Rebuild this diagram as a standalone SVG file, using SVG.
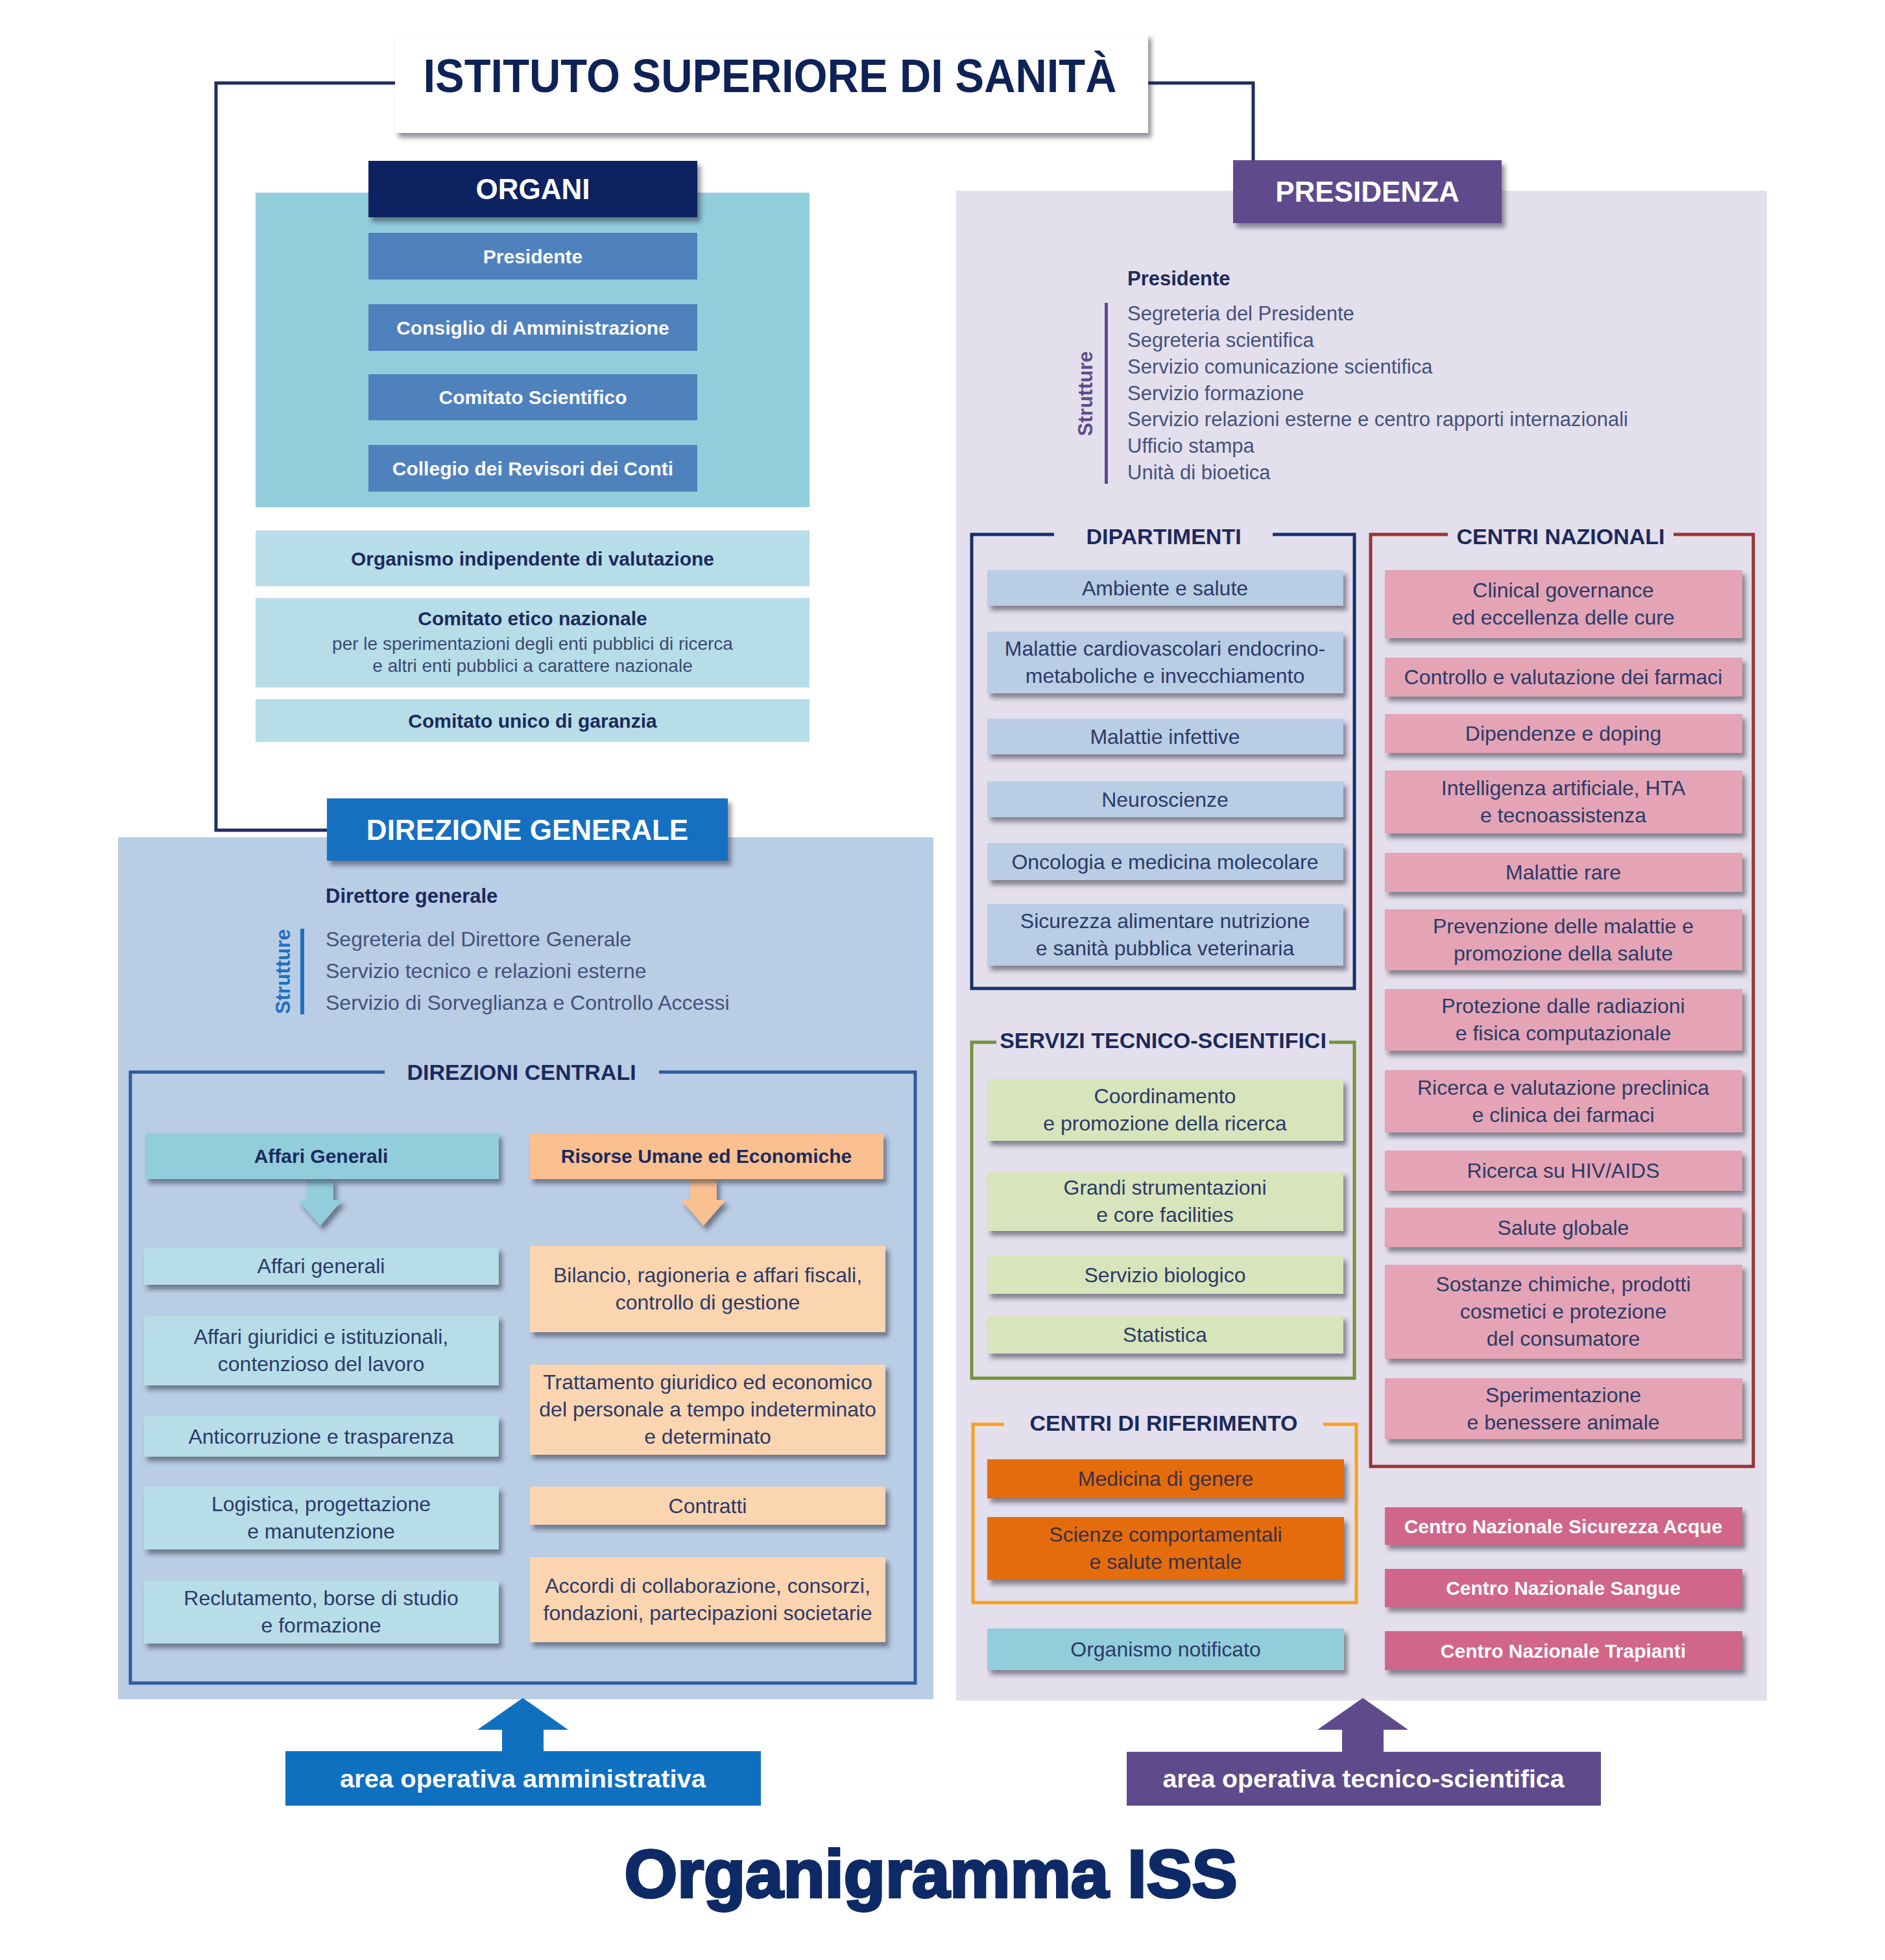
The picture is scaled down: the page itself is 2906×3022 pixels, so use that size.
<svg xmlns="http://www.w3.org/2000/svg" width="2906" height="3022" viewBox="0 0 2906 3022">
<defs>
<filter id="sh" x="-10%" y="-20%" width="130%" height="170%">
<feDropShadow dx="5" dy="7" stdDeviation="3.5" flood-color="#1d2233" flood-opacity="0.5"/>
</filter>
</defs>
<style>
text{font-family:"Liberation Sans",Arial,sans-serif}
.t{font-size:32px;fill:#2B3A67;text-anchor:middle}
.ts{font-size:28px;fill:#3B4A72;text-anchor:middle}
.tb{font-size:30px;font-weight:bold;fill:#1B2A5C;text-anchor:middle}
.ob{font-size:30px;font-weight:bold;fill:#fff;text-anchor:middle}
.hdr{font-size:44px;font-weight:bold;fill:#fff;text-anchor:middle}
.sec{font-size:34px;font-weight:bold;fill:#1B2A5C;text-anchor:middle}
.lst{font-size:31px;fill:#44527A}
.lsd{font-size:32px;fill:#44527A}
.lsb{font-size:31px;font-weight:bold;fill:#1B2A5C}
.fr{fill:none;stroke-width:5}
.dip{fill:#B9CDE5}
.cn{fill:#E4A4B5}
.srv{fill:#D8E4BC}
.rif{fill:#E46C0A}
.cnz{fill:#D0668A}
.ag{fill:#B7DDE8}
.ru{fill:#FBD4B0}
.oi{fill:#4F81BD}
</style>
<rect x="0" y="0" width="2906" height="3022" fill="#fff"/>

<!-- panels -->
<g id="panels">
<rect x="394" y="297" width="854" height="485" fill="#92CDDC"/>
<rect x="1474" y="294" width="1250" height="2328" fill="#E4DFEC"/>
<rect x="182" y="1291" width="1257" height="1329" fill="#B9CDE5"/>
</g>

<!-- connectors -->
<g id="connectors">
<path d="M 610 128 H 333 V 1280 H 506" fill="none" stroke="#1F2E5F" stroke-width="5"/>
<path d="M 1768 128 H 1932 V 249" fill="none" stroke="#1F2E5F" stroke-width="5"/>
<polygon points="473,1818 514,1818 514,1850 528,1850 493.5,1890 459,1850 473,1850" fill="#92CDDC" filter="url(#sh)"/>
<polygon points="1064,1818 1105,1818 1105,1850 1119,1850 1084.5,1890 1050,1850 1064,1850" fill="#FAC090" filter="url(#sh)"/>
<polygon points="774,2701 774,2667 736,2667 806,2618 876,2667 838,2667 838,2701" fill="#0F70C0"/>
<polygon points="2069,2701 2069,2667 2031,2667 2101,2618 2171,2667 2133,2667 2133,2701" fill="#5F4B8B"/>
</g>

<!-- title -->
<g id="title">
<rect x="609" y="52" width="1161" height="153" fill="#fff" filter="url(#sh)"/>
<text x="1187" y="142" font-size="72" font-weight="bold" fill="#0E2258" text-anchor="middle" textLength="1069" lengthAdjust="spacingAndGlyphs">ISTITUTO SUPERIORE DI SANITÀ</text>
</g>

<!-- ORGANI -->
<g id="organi">
<rect x="568" y="248" width="507" height="87" fill="#0B2460" filter="url(#sh)"/>
<text class="hdr" x="821.5" y="307">ORGANI</text>
</g>
<g id="organi-presidente"><rect class="oi" x="568" y="359" width="507" height="72"/><text class="ob" x="821.5" y="406">Presidente</text></g>
<g id="organi-cda"><rect class="oi" x="568" y="469" width="507" height="72"/><text class="ob" x="821.5" y="516">Consiglio di Amministrazione</text></g>
<g id="organi-cs"><rect class="oi" x="568" y="577" width="507" height="71"/><text class="ob" x="821.5" y="623">Comitato Scientifico</text></g>
<g id="organi-crc"><rect class="oi" x="568" y="686" width="507" height="72"/><text class="ob" x="821.5" y="733">Collegio dei Revisori dei Conti</text></g>
<g id="oiv"><rect class="ag" x="394" y="818" width="854" height="86"/><text class="tb" x="821" y="872">Organismo indipendente di valutazione</text></g>
<g id="cen"><rect class="ag" x="394" y="922" width="854" height="138"/>
<text class="tb" x="821" y="964">Comitato etico nazionale</text>
<text class="ts" x="821" y="1002">per le sperimentazioni degli enti pubblici di ricerca</text>
<text class="ts" x="821" y="1036">e altri enti pubblici a carattere nazionale</text></g>
<g id="cug"><rect class="ag" x="394" y="1078" width="854" height="66"/><text class="tb" x="821" y="1122">Comitato unico di garanzia</text></g>

<!-- PRESIDENZA -->
<g id="presidenza">
<rect x="1901" y="247" width="414" height="97" fill="#5F4B8B" filter="url(#sh)"/>
<text class="hdr" x="2108" y="311">PRESIDENZA</text>
</g>
<g id="presidenza-strutture">
<text class="lsb" x="1738" y="440">Presidente</text>
<rect x="1703" y="467" width="5" height="279" fill="#5F4B8B"/>
<text transform="translate(1684,607) rotate(-90)" font-size="31" font-weight="bold" fill="#5F4B8B" text-anchor="middle">Strutture</text>
<text class="lst" x="1738" y="494">Segreteria del Presidente</text>
<text class="lst" x="1738" y="535">Segreteria scientifica</text>
<text class="lst" x="1738" y="576">Servizio comunicazione scientifica</text>
<text class="lst" x="1738" y="617">Servizio formazione</text>
<text class="lst" x="1738" y="657">Servizio relazioni esterne e centro rapporti internazionali</text>
<text class="lst" x="1738" y="698">Ufficio stampa</text>
<text class="lst" x="1738" y="739">Unità di bioetica</text>
</g>

<!-- DIPARTIMENTI -->
<g id="dipartimenti">
<path class="fr" d="M 1625 824 H 1498 V 1524 H 2088 V 824 H 1962" stroke="#17306B"/>
<text class="sec" x="1794" y="839">DIPARTIMENTI</text>
</g>
<g id="dip-1"><rect class="dip" x="1522" y="879" width="549" height="55" filter="url(#sh)"/><text class="t" x="1796" y="918">Ambiente e salute</text></g>
<g id="dip-2"><rect class="dip" x="1522" y="974" width="549" height="95" filter="url(#sh)"/><text class="t" x="1796" y="1011">Malattie cardiovascolari endocrino-</text><text class="t" x="1796" y="1053">metaboliche e invecchiamento</text></g>
<g id="dip-3"><rect class="dip" x="1522" y="1108" width="549" height="55" filter="url(#sh)"/><text class="t" x="1796" y="1147">Malattie infettive</text></g>
<g id="dip-4"><rect class="dip" x="1522" y="1205" width="549" height="55" filter="url(#sh)"/><text class="t" x="1796" y="1244">Neuroscienze</text></g>
<g id="dip-5"><rect class="dip" x="1522" y="1300" width="549" height="57" filter="url(#sh)"/><text class="t" x="1796" y="1340">Oncologia e medicina molecolare</text></g>
<g id="dip-6"><rect class="dip" x="1522" y="1394" width="549" height="95" filter="url(#sh)"/><text class="t" x="1796" y="1431">Sicurezza alimentare nutrizione</text><text class="t" x="1796" y="1473">e sanità pubblica veterinaria</text></g>

<!-- CENTRI NAZIONALI -->
<g id="centri-nazionali">
<path class="fr" d="M 2232 824 H 2113 V 2261 H 2703 V 824 H 2580" stroke="#943634"/>
<text class="sec" x="2406" y="839">CENTRI NAZIONALI</text>
</g>
<g id="cn-1"><rect class="cn" x="2135" y="879" width="551" height="105" filter="url(#sh)"/><text class="t" x="2410" y="921">Clinical governance</text><text class="t" x="2410" y="963">ed eccellenza delle cure</text></g>
<g id="cn-2"><rect class="cn" x="2135" y="1014" width="551" height="60" filter="url(#sh)"/><text class="t" x="2410" y="1055">Controllo e valutazione dei farmaci</text></g>
<g id="cn-3"><rect class="cn" x="2135" y="1101" width="551" height="60" filter="url(#sh)"/><text class="t" x="2410" y="1142">Dipendenze e doping</text></g>
<g id="cn-4"><rect class="cn" x="2135" y="1188" width="551" height="97" filter="url(#sh)"/><text class="t" x="2410" y="1226">Intelligenza artificiale, HTA</text><text class="t" x="2410" y="1268">e tecnoassistenza</text></g>
<g id="cn-5"><rect class="cn" x="2135" y="1315" width="551" height="60" filter="url(#sh)"/><text class="t" x="2410" y="1356">Malattie rare</text></g>
<g id="cn-6"><rect class="cn" x="2135" y="1402" width="551" height="94" filter="url(#sh)"/><text class="t" x="2410" y="1439">Prevenzione delle malattie e</text><text class="t" x="2410" y="1481">promozione della salute</text></g>
<g id="cn-7"><rect class="cn" x="2135" y="1525" width="551" height="95" filter="url(#sh)"/><text class="t" x="2410" y="1562">Protezione dalle radiazioni</text><text class="t" x="2410" y="1604">e fisica computazionale</text></g>
<g id="cn-8"><rect class="cn" x="2135" y="1650" width="551" height="96" filter="url(#sh)"/><text class="t" x="2410" y="1688">Ricerca e valutazione preclinica</text><text class="t" x="2410" y="1730">e clinica dei farmaci</text></g>
<g id="cn-9"><rect class="cn" x="2135" y="1774" width="551" height="62" filter="url(#sh)"/><text class="t" x="2410" y="1816">Ricerca su HIV/AIDS</text></g>
<g id="cn-10"><rect class="cn" x="2135" y="1862" width="551" height="61" filter="url(#sh)"/><text class="t" x="2410" y="1904">Salute globale</text></g>
<g id="cn-11"><rect class="cn" x="2135" y="1950" width="551" height="145" filter="url(#sh)"/><text class="t" x="2410" y="1991">Sostanze chimiche, prodotti</text><text class="t" x="2410" y="2033">cosmetici e protezione</text><text class="t" x="2410" y="2075">del consumatore</text></g>
<g id="cn-12"><rect class="cn" x="2135" y="2125" width="551" height="94" filter="url(#sh)"/><text class="t" x="2410" y="2162">Sperimentazione</text><text class="t" x="2410" y="2204">e benessere animale</text></g>

<!-- SERVIZI TECNICO-SCIENTIFICI -->
<g id="servizi">
<path class="fr" d="M 1536 1607 H 1498 V 2125 H 2088 V 1607 H 2049" stroke="#76923C"/>
<text class="sec" x="1793" y="1616">SERVIZI TECNICO-SCIENTIFICI</text>
</g>
<g id="srv-1"><rect class="srv" x="1522" y="1664" width="549" height="95" filter="url(#sh)"/><text class="t" x="1796" y="1701">Coordinamento</text><text class="t" x="1796" y="1743">e promozione della ricerca</text></g>
<g id="srv-2"><rect class="srv" x="1522" y="1806" width="549" height="92" filter="url(#sh)"/><text class="t" x="1796" y="1842">Grandi strumentazioni</text><text class="t" x="1796" y="1884">e core facilities</text></g>
<g id="srv-3"><rect class="srv" x="1522" y="1936" width="549" height="59" filter="url(#sh)"/><text class="t" x="1796" y="1977">Servizio biologico</text></g>
<g id="srv-4"><rect class="srv" x="1522" y="2028" width="549" height="59" filter="url(#sh)"/><text class="t" x="1796" y="2069">Statistica</text></g>

<!-- CENTRI DI RIFERIMENTO -->
<g id="centri-riferimento">
<path class="fr" d="M 1548 2196 H 1500 V 2471 H 2091 V 2196 H 2040" stroke="#F9A11B"/>
<text class="sec" x="1794" y="2206">CENTRI DI RIFERIMENTO</text>
</g>
<g id="rif-1"><rect class="rif" x="1522" y="2250" width="550" height="60" filter="url(#sh)"/><text class="t" x="1797" y="2291" style="fill:#3A2F45">Medicina di genere</text></g>
<g id="rif-2"><rect class="rif" x="1522" y="2339" width="550" height="97" filter="url(#sh)"/><text class="t" x="1797" y="2377" style="fill:#3A2F45">Scienze comportamentali</text><text class="t" x="1797" y="2419" style="fill:#3A2F45">e salute mentale</text></g>
<g id="organismo-notificato"><rect x="1522" y="2511" width="550" height="64" fill="#92CDDC" filter="url(#sh)"/><text class="t" x="1797" y="2554">Organismo notificato</text></g>

<!-- CENTRI NAZIONALI (autonomi) -->
<g id="cnsa"><rect class="cnz" x="2135" y="2324" width="551" height="58" filter="url(#sh)"/><text class="ob" x="2410" y="2364">Centro Nazionale Sicurezza Acque</text></g>
<g id="cns"><rect class="cnz" x="2135" y="2419" width="551" height="59" filter="url(#sh)"/><text class="ob" x="2410" y="2459">Centro Nazionale Sangue</text></g>
<g id="cnt"><rect class="cnz" x="2135" y="2515" width="551" height="60" filter="url(#sh)"/><text class="ob" x="2410" y="2556">Centro Nazionale Trapianti</text></g>

<!-- DIREZIONE GENERALE -->
<g id="direzione-generale">
<rect x="504" y="1231" width="618" height="96" fill="#1570C2" filter="url(#sh)"/>
<text class="hdr" x="813" y="1295">DIREZIONE GENERALE</text>
</g>
<g id="dg-strutture">
<text class="lsb" x="502" y="1392">Direttore generale</text>
<rect x="463" y="1432" width="6" height="132" fill="#1F6FC0"/>
<text transform="translate(447,1498) rotate(-90)" font-size="31" font-weight="bold" fill="#1F6FC0" text-anchor="middle">Strutture</text>
<text class="lsd" x="502" y="1459">Segreteria del Direttore Generale</text>
<text class="lsd" x="502" y="1508">Servizio tecnico e relazioni esterne</text>
<text class="lsd" x="502" y="1557">Servizio di Sorveglianza e Controllo Accessi</text>
</g>

<!-- DIREZIONI CENTRALI -->
<g id="direzioni-centrali">
<path class="fr" d="M 593 1653 H 201 V 2595 H 1411 V 1653 H 1016" stroke="#2E5B9C"/>
<text class="sec" x="804" y="1665">DIREZIONI CENTRALI</text>
</g>
<g id="dc-affari-generali"><rect x="224" y="1747" width="545" height="71" fill="#92CDDC" filter="url(#sh)"/><text class="tb" x="495" y="1793">Affari Generali</text></g>
<g id="dc-risorse"><rect x="817" y="1747" width="545" height="71" fill="#FAC090" filter="url(#sh)"/><text class="tb" x="1089" y="1793">Risorse Umane ed Economiche</text></g>

<g id="ag-1"><rect class="ag" x="222" y="1923" width="547" height="58" filter="url(#sh)"/><text class="t" x="495" y="1963">Affari generali</text></g>
<g id="ag-2"><rect class="ag" x="222" y="2028" width="547" height="108" filter="url(#sh)"/><text class="t" x="495" y="2072">Affari giuridici e istituzionali,</text><text class="t" x="495" y="2114">contenzioso del lavoro</text></g>
<g id="ag-3"><rect class="ag" x="222" y="2183" width="547" height="63" filter="url(#sh)"/><text class="t" x="495" y="2226">Anticorruzione e trasparenza</text></g>
<g id="ag-4"><rect class="ag" x="222" y="2292" width="547" height="97" filter="url(#sh)"/><text class="t" x="495" y="2330">Logistica, progettazione</text><text class="t" x="495" y="2372">e manutenzione</text></g>
<g id="ag-5"><rect class="ag" x="222" y="2437" width="547" height="97" filter="url(#sh)"/><text class="t" x="495" y="2475">Reclutamento, borse di studio</text><text class="t" x="495" y="2517">e formazione</text></g>

<g id="ru-1"><rect class="ru" x="817" y="1921" width="548" height="133" filter="url(#sh)"/><text class="t" x="1091" y="1977">Bilancio, ragioneria e affari fiscali,</text><text class="t" x="1091" y="2019">controllo di gestione</text></g>
<g id="ru-2"><rect class="ru" x="817" y="2104" width="548" height="139" filter="url(#sh)"/><text class="t" x="1091" y="2142">Trattamento giuridico ed economico</text><text class="t" x="1091" y="2184">del personale a tempo indeterminato</text><text class="t" x="1091" y="2226">e determinato</text></g>
<g id="ru-3"><rect class="ru" x="817" y="2292" width="548" height="59" filter="url(#sh)"/><text class="t" x="1091" y="2333">Contratti</text></g>
<g id="ru-4"><rect class="ru" x="817" y="2401" width="548" height="131" filter="url(#sh)"/><text class="t" x="1091" y="2456">Accordi di collaborazione, consorzi,</text><text class="t" x="1091" y="2498">fondazioni, partecipazioni societarie</text></g>

<!-- bottom areas -->
<g id="area-amministrativa"><rect x="440" y="2700" width="733" height="84" fill="#0F70C0"/><text x="806" y="2756" font-size="39" font-weight="bold" fill="#fff" text-anchor="middle" textLength="564" lengthAdjust="spacingAndGlyphs">area operativa amministrativa</text></g>
<g id="area-tecnico-scientifica"><rect x="1737" y="2701" width="731" height="83" fill="#5F4B8B"/><text x="2102" y="2756" font-size="39" font-weight="bold" fill="#fff" text-anchor="middle" textLength="619" lengthAdjust="spacingAndGlyphs">area operativa tecnico-scientifica</text></g>

<g id="footer-title"><text x="1435" y="2925" font-size="104" font-weight="bold" fill="#0E2A66" stroke="#0E2A66" stroke-width="4" text-anchor="middle" textLength="945" lengthAdjust="spacingAndGlyphs">Organigramma ISS</text></g>
</svg>
